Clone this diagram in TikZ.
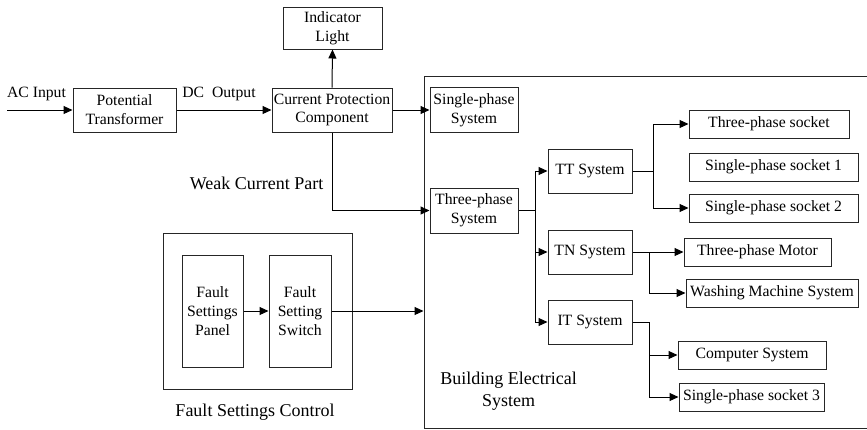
\documentclass[tikz,border=0pt]{standalone}
\usepackage{fontspec}
\setmainfont{Liberation Serif}
\usetikzlibrary{arrows.meta,calc}

\tikzset{
  lnk/.style={draw=black, line width=1pt},
  arr/.style={lnk, -{Triangle[length=9pt,width=8pt]}},
  blk/.style={draw=black!85, line width=1pt, rectangle, inner sep=1pt,
    align=center, font=\rmfamily\fontsize{15.7}{18.8}\selectfont},
  frm/.style={draw=black!85, line width=1pt, rectangle, inner sep=0pt},
  lbl/.style={align=center, inner sep=0pt, font=\rmfamily\fontsize{18}{22}\selectfont},
  sml/.style={inner sep=0pt, font=\rmfamily\fontsize{15.7}{18.8}\selectfont},
}

\begin{document}
\begin{tikzpicture}[x=1pt, y=-1pt]
\useasboundingbox (0,0) rectangle (867,429);

% enclosing frames
\node[frm, minimum width=456pt, minimum height=352pt] (bes) at (652,252) {};
\node[frm, minimum width=189pt, minimum height=156pt] (fsc) at (257.5,311) {};

% power path
\node[blk, minimum width=103pt, minimum height=44pt] (pt) at (124.5,110) {Potential\\Transformer};
\node[blk, minimum width=120pt, minimum height=44pt] (cp) at (332,110) {Current Protection\\Component};
\node[blk, minimum width=99pt, minimum height=42pt] (ind) at (332.5,28) {Indicator\\Light};

% building electrical system
\node[blk, minimum width=88pt, minimum height=45pt] (sp) at (474,110) {Single-phase\\System};
\node[blk, minimum width=88pt, minimum height=45pt] (tp) at (474,210.5) {Three-phase\\System};
\node[blk, minimum width=84pt, minimum height=44pt] (tt) at (590,171) {TT System};
\node[blk, minimum width=84pt, minimum height=44pt] (tn) at (590,252) {TN System};
\node[blk, minimum width=84pt, minimum height=44pt] (it) at (590,322) {IT System};

\node[blk, minimum width=160pt, minimum height=28pt] (s3p) at (769,124) {Three-phase socket};
\node[blk, minimum width=169pt, minimum height=28pt] (s1) at (773.5,167) {Single-phase socket 1};
\node[blk, minimum width=169pt, minimum height=28pt] (s2) at (773.5,208) {Single-phase socket 2};
\node[blk, minimum width=147pt, minimum height=28pt] (mot) at (757.5,252) {Three-phase Motor};
\node[blk, minimum width=172pt, minimum height=28pt] (wash) at (772,293) {Washing Machine System};
\node[blk, minimum width=148pt, minimum height=28pt] (comp) at (752,355) {Computer System};
\node[blk, minimum width=145pt, minimum height=28pt] (s3) at (751.5,397) {Single-phase socket 3};

% fault settings
\node[blk, minimum width=61pt, minimum height=112pt] (fsp) at (212.5,311) {Fault\\Settings\\Panel};
\node[blk, minimum width=62pt, minimum height=112pt] (fss) at (300,311) {Fault\\Setting\\Switch};

% labels
\node[sml] (acl) at (36.5,94) {AC Input};
\node[sml] (dcl) at (219,94) {DC~~Output};
\node[lbl] (wcp) at (256.5,183) {Weak Current Part};
\node[lbl] (besl) at (508.5,391) {Building Electrical\\System};
\node[lbl] (fscl) at (255,412) {Fault Settings Control};

% connectors
\coordinate (acin) at (7,110);
\draw[arr] (acin) -- (pt.west);
\draw[arr] (pt.east) -- (cp.west);
\draw[arr] (cp.north) -- (ind.south);
\draw[arr] (cp.east) -- (sp.west);
\draw[arr] (cp.south) |- (tp.west);

\coordinate (j1) at (535,210.5);
\draw[lnk] (tp.east) -- (j1);
\draw[arr] (j1) |- (tt.west);
\draw[arr] (j1) |- (tn.west);
\draw[arr] (j1) |- (it.west);

\coordinate (j2) at (653,171);
\draw[lnk] (tt.east) -- (j2);
\draw[arr] (j2) |- (s3p.west);
\draw[arr] (j2) |- (s2.west);

\coordinate (j3) at (649,252);
\draw[arr] (tn.east) -- (mot.west);
\draw[arr] (j3) |- (wash.west);

\coordinate (j4) at (649,322);
\draw[lnk] (it.east) -- (j4);
\draw[arr] (j4) |- (comp.west);
\draw[arr] (j4) |- (s3.west);

\draw[arr] (fsp.east) -- (fss.west);
\draw[arr] (fss.east) -- (fss.east -| bes.west);
\end{tikzpicture}
\end{document}
